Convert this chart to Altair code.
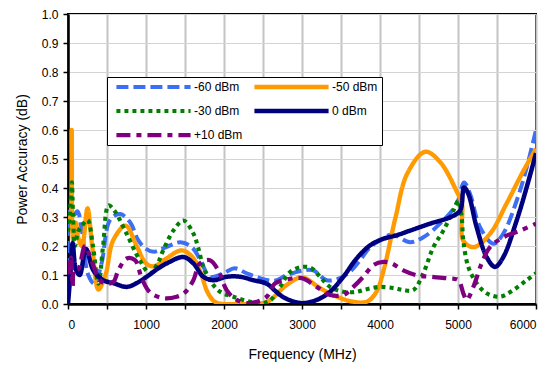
import altair as alt
import pandas as pd

series_names = ["-60 dBm", "-50 dBm", "-30 dBm", "0 dBm", "+10 dBm"]
series_colors = ["#3d6ff5", "#ff9a00", "#007f00", "#00007f", "#7f007f"]
series_dashes = [[12, 5], [1, 0], [4, 4], [1, 0], [14, 6, 5, 6]]
series_widths = [4, 3.5, 4.5, 3.5, 4]
# legend fills column by column: 3 rows x 2 columns
legend_order = ["-60 dBm", "-30 dBm", "+10 dBm", "-50 dBm", "0 dBm"]

f_m60 = [0, 20, 60, 120, 180, 260, 340, 430, 540, 670, 800, 900, 1000, 1100, 1250, 1440, 1590, 1700, 1820, 1990, 2140, 2290, 2460, 2650, 2800, 3017, 3145, 3316, 3487, 3615, 3744, 3872, 4000, 4150, 4385, 4555, 4769, 4983, 5077, 5154, 5282, 5453, 5581, 5752, 5880, 6000]
v_m60 = [0.0, 0.32, 0.30, 0.32, 0.25, 0.10, 0.07, 0.14, 0.29, 0.31, 0.28, 0.22, 0.19, 0.18, 0.195, 0.213, 0.195, 0.15, 0.094, 0.106, 0.123, 0.106, 0.089, 0.08, 0.099, 0.116, 0.116, 0.082, 0.089, 0.111, 0.151, 0.196, 0.219, 0.24, 0.213, 0.23, 0.277, 0.345, 0.419, 0.38, 0.265, 0.208, 0.243, 0.356, 0.47, 0.6]

f_m50 = [0, 30, 47, 65, 100, 140, 180, 250, 310, 390, 480, 580, 740, 880, 1000, 1100, 1250, 1460, 1600, 1690, 1800, 1900, 2200, 2500, 2600, 2800, 3000, 3230, 3450, 3650, 3830, 3950, 4050, 4200, 4350, 4580, 4770, 4980, 5050, 5065, 5200, 5410, 5620, 5840, 6000]
v_m50 = [0.28, 0.30, 0.60, 0.22, 0.28, 0.22, 0.20, 0.33, 0.20, 0.05, 0.10, 0.22, 0.27, 0.20, 0.14, 0.13, 0.155, 0.185, 0.16, 0.116, 0.035, 0.005, 0.0, 0.003, 0.015, 0.065, 0.092, 0.055, 0.025, 0.008, 0.008, 0.04, 0.12, 0.30, 0.45, 0.525, 0.49, 0.39, 0.345, 0.22, 0.196, 0.242, 0.345, 0.46, 0.535]

f_m30 = [0, 20, 40, 50, 65, 90, 130, 180, 250, 320, 390, 450, 520, 600, 750, 920, 1050, 1150, 1220, 1350, 1480, 1607, 1667, 1735, 1820, 1950, 2120, 2333, 2500, 2600, 2718, 2846, 2996, 3124, 3231, 3359, 3530, 3701, 3829, 4000, 4192, 4300, 4427, 4555, 4684, 4812, 4940, 5004, 5047, 5068, 5132, 5239, 5367, 5538, 5709, 5880, 6000]
v_m30 = [0.25, 0.30, 0.38, 0.42, 0.30, 0.20, 0.25, 0.27, 0.29, 0.20, 0.07, 0.20, 0.34, 0.32, 0.243, 0.151, 0.106, 0.14, 0.185, 0.253, 0.288, 0.243, 0.196, 0.128, 0.082, 0.042, 0.025, 0.008, 0.003, 0.014, 0.059, 0.11, 0.128, 0.123, 0.094, 0.059, 0.042, 0.042, 0.051, 0.059, 0.054, 0.048, 0.048, 0.106, 0.196, 0.253, 0.322, 0.356, 0.299, 0.219, 0.128, 0.072, 0.037, 0.025, 0.048, 0.082, 0.106]

f_0 = [0, 30, 60, 100, 150, 230, 325, 453, 581, 752, 880, 1009, 1158, 1265, 1479, 1607, 1735, 1863, 2034, 2205, 2376, 2547, 2700, 2800, 2996, 3188, 3359, 3530, 3701, 3872, 4043, 4200, 4385, 4641, 4897, 5026, 5077, 5132, 5239, 5367, 5474, 5581, 5752, 5880, 6000]
v_0 = [0.0, 0.10, 0.21, 0.12, 0.10, 0.19, 0.116, 0.082, 0.072, 0.059, 0.072, 0.094, 0.123, 0.14, 0.162, 0.14, 0.094, 0.082, 0.094, 0.094, 0.082, 0.07, 0.035, 0.018, 0.003, 0.014, 0.042, 0.094, 0.157, 0.202, 0.225, 0.236, 0.253, 0.277, 0.299, 0.322, 0.402, 0.38, 0.265, 0.162, 0.128, 0.162, 0.288, 0.402, 0.52]

f_p10 = [0, 20, 40, 60, 80, 130, 218, 300, 410, 496, 581, 645, 752, 859, 945, 1051, 1222, 1393, 1500, 1607, 1692, 1820, 1927, 2034, 2162, 2333, 2547, 2650, 2761, 2996, 3188, 3359, 3530, 3658, 3786, 3915, 4043, 4150, 4299, 4470, 4641, 4855, 5004, 5068, 5111, 5197, 5303, 5410, 5581, 5795, 6000]
v_p10 = [0.15, 0.10, 0.16, 0.06, 0.12, 0.12, 0.20, 0.15, 0.082, 0.07, 0.076, 0.116, 0.157, 0.151, 0.089, 0.04, 0.02, 0.025, 0.04, 0.082, 0.14, 0.151, 0.116, 0.048, 0.014, 0.003, 0.025, 0.07, 0.082, 0.089, 0.059, 0.031, 0.031, 0.059, 0.094, 0.134, 0.145, 0.14, 0.116, 0.099, 0.094, 0.089, 0.082, 0.037, 0.014, 0.059, 0.14, 0.196, 0.23, 0.253, 0.277]

x_ticks = list(range(0, 6001, 500))
y_ticks = [round(i * 0.1, 1) for i in range(11)]

rows = []
for name, fs, vs in zip(series_names, [f_m60, f_m50, f_m30, f_0, f_p10], [v_m60, v_m50, v_m30, v_0, v_p10]):
    for f, v in zip(fs, vs):
        rows.append({"series": name, "freq": f, "acc": v})
df = pd.DataFrame(rows)

font = "Liberation Sans"
colors_by_legend = [series_colors[series_names.index(s)] for s in legend_order]
dashes_by_legend = [series_dashes[series_names.index(s)] for s in legend_order]
widths_by_legend = [series_widths[series_names.index(s)] for s in legend_order]

leg = dict(title=None, orient="none", legendX=39, legendY=63,
           columns=2, symbolType="stroke", symbolSize=5500,
           symbolStrokeWidth=4, clipHeight=12, rowPadding=12,
           columnPadding=6, padding=4, symbolOffset=3,
           labelOffset=1, labelFont=font, labelFontSize=12,
           labelColor="black", fillColor="white",
           strokeColor="#000000", cornerRadius=0)

base = alt.Chart(df).mark_line(interpolate="catmull-rom", clip=True).encode(
    x=alt.X("freq:Q", title="Frequency (MHz)",
            scale=alt.Scale(domain=[0, 6000], nice=False),
            axis=alt.Axis(values=x_ticks, format="d", gridColor="#c4c4c4", gridWidth=2,
                          labelPadding=10, titlePadding=17)),
    y=alt.Y("acc:Q", title="Power Accuracy (dB)",
            scale=alt.Scale(domain=[0, 1], nice=False),
            axis=alt.Axis(values=y_ticks, format=".1f", gridColor="#d4d4d4", gridWidth=1,
                          labelPadding=5, titlePadding=12)),
    color=alt.Color("series:N", sort=legend_order,
                    scale=alt.Scale(domain=legend_order, range=colors_by_legend),
                    legend=alt.Legend(**leg)),
    strokeDash=alt.StrokeDash("series:N", sort=legend_order,
                              scale=alt.Scale(domain=legend_order, range=dashes_by_legend),
                              legend=alt.Legend(**leg)),
    strokeWidth=alt.StrokeWidth("series:N", sort=legend_order,
                                scale=alt.Scale(domain=legend_order, range=widths_by_legend),
                                legend=None),
    order=alt.Order("freq:Q"),
)

layers = [base.transform_filter(alt.datum.series == s) for s in series_names]

chart = alt.layer(*layers).properties(
    width=468, height=290,
    autosize=alt.AutoSizeParams(type="none"),
    padding={"left": 60, "top": 6, "right": 11, "bottom": 62},
).configure_view(
    stroke="black", strokeWidth=2
).configure_axis(
    labelFont=font, titleFont=font, labelFontSize=12, titleFontSize=14,
    labelColor="black", titleColor="black", titleFontWeight="normal",
    domainColor="black", domainWidth=2.5, tickColor="black", tickWidth=1.5, tickSize=5,
)

chart.save("out.html", embed_options={"renderer": "svg", "actions": False})
